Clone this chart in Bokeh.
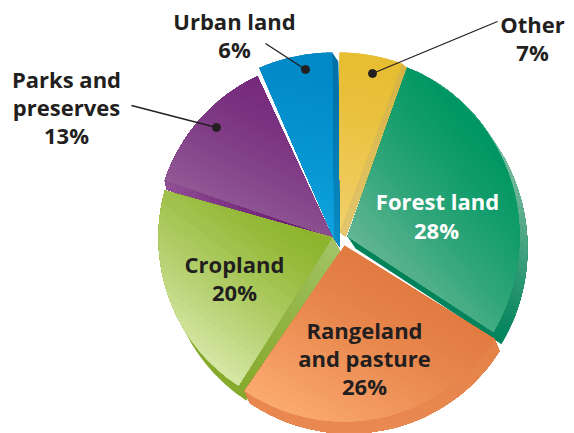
import numpy as np
from bokeh.plotting import figure
from bokeh.models import Range1d, ColumnDataSource
from bokeh.core.properties import value
from bokeh.embed import file_html
from bokeh.resources import INLINE

# ---- data
names = ["Forest land", "Rangeland and pasture", "Cropland", "Parks and preserves", "Urban land", "Other"]
shares = [28, 26, 20, 13, 6, 7]

# ---- artwork layout (reference pixel space; the illustration is hand drawn, so slices are nudged)
START = 20.3
start_nudge = [0.0, 1.0, -2.0, 2.0, 2.9, 4.9]
end_nudge = [0.9, -0.4, -1.2, 1.4, 4.5, 0.2]
apex = [(347, 236), (344, 245), (332, 237), (332, 237), (333, 237), (339, 231)]
radius_x = [172, 177, 174, 177, 185, 179]
radius_y = [180, 176, 176, 178, 185, 179]
extrude = [(8, 12), (5, 12), (8, 15), (2, 9), (6, 9), (6, 5)]
top_col = [("#009763", "#62b592", (-0.75, 0.66)), ("#e27b41", "#faa96f", (-0.5, 0.87)),
           ("#8db32b", "#d3e6a2", (-0.6, 0.8)), ("#762a7d", "#905894", (-0.45, 0.89)),
           ("#0088c7", "#0ea3de", (-0.2, 0.98)), ("#e7bd31", "#f2d06c", (-0.2, 0.98))]
side_col = [("#00825a", "#8fc6ab", (0.6, -0.8)), ("#e07a40", "#e98a52", (0, 1)),
            ("#86aa2c", "#a3c266", (0.75, -0.65)), ("#66146f", "#8f4f95", (-0.8, -0.2)),
            ("#0070a8", "#0a8cc4", (0, 1)), ("#d6b443", "#e2c770", (0, 1))]
order = [5, 4, 3, 0, 2, 1]

lines = [("Urban land", 234, 20, "#231f20"), ("6%", 234, 48, "#231f20"),
         ("Other", 532, 23, "#231f20"), ("7%", 532, 51, "#231f20"),
         ("Parks and", 66, 78, "#231f20"), ("preserves", 66, 106, "#231f20"), ("13%", 66, 134, "#231f20"),
         ("Forest land", 437, 200, "white"), ("28%", 436, 229, "white"),
         ("Cropland", 234, 263, "#231f20"), ("20%", 234, 291, "#231f20"),
         ("Rangeland", 364, 329, "#231f20"), ("and pasture", 364, 357, "#231f20"), ("26%", 364, 385, "#231f20")]
leaders = [((265, 43), (305, 69)), ((497, 21), (372, 73)), ((131, 105), (216, 127))]


def sector(c, rx, ry, a0, a1):
    a = np.radians(np.linspace(a0, a1, 60))
    pts = [(c[0] + rx * np.sin(t), c[1] - ry * np.cos(t)) for t in a]
    return [tuple(c)] + pts


def hull(pts):
    pts = sorted(set(pts))
    def half(seq):
        out = []
        for p in seq:
            while len(out) > 1 and (out[-1][0]-out[-2][0])*(p[1]-out[-2][1]) - (out[-1][1]-out[-2][1])*(p[0]-out[-2][0]) <= 0:
                out.pop()
            out.append(p)
        return out[:-1]
    return half(pts) + half(pts[::-1])


def clip(poly, d, t0):
    out = []
    for i, p in enumerate(poly):
        q = poly[(i + 1) % len(poly)]
        tp, tq = p[0]*d[0] + p[1]*d[1], q[0]*d[0] + q[1]*d[1]
        if tp >= t0:
            out.append(p)
        if (tp >= t0) != (tq >= t0):
            f = (t0 - tp) / (tq - tp)
            out.append((p[0] + f*(q[0]-p[0]), p[1] + f*(q[1]-p[1])))
    return out


def rgb(h):
    return np.array([int(h[i:i+2], 16) for i in (1, 3, 5)], float)


def gradient(p, poly, c0, c1, d, n=26):
    ts = [a*d[0] + b*d[1] for a, b in poly]
    lo, hi = min(ts), max(ts)
    xs, ys, cs = [], [], []
    for k in range(n):
        part = clip(poly, d, lo + (hi - lo) * k / n) if k else poly
        if len(part) < 3:
            continue
        col = rgb(c0) + (rgb(c1) - rgb(c0)) * (k / (n - 1)) ** 1.3
        xs.append([a for a, _ in part])
        ys.append([b for _, b in part])
        cs.append("#%02x%02x%02x" % tuple(int(round(v)) for v in col))
    p.patches(xs="xs", ys="ys", fill_color="cs", line_color=None,
              source=ColumnDataSource(dict(xs=xs, ys=ys, cs=cs)))


p = figure(width=574, height=433, x_range=Range1d(0, 574), y_range=Range1d(433, 0),
           toolbar_location=None, output_backend="svg", min_border=0,
           outline_line_color=None, background_fill_color="white")
p.axis.visible = False
p.grid.visible = False

cum = np.concatenate([[0], np.cumsum(shares)]) * 3.6 + START
for i in order:
    a0, a1 = cum[i] + start_nudge[i], cum[i + 1] + end_nudge[i]
    top = sector(apex[i], radius_x[i], radius_y[i], a0, a1)
    ex = extrude[i]
    body = hull(top + [(x + ex[0], y + ex[1]) for x, y in top])
    gradient(p, body, *side_col[i])
    gradient(p, top, *top_col[i])

for a, b in leaders:
    p.line([a[0], b[0]], [a[1], b[1]], line_color="#231f20", line_width=1.3)
    p.scatter([b[0]], [b[1]], size=8, color="#231f20")

p.text([l[1] for l in lines], [l[2] for l in lines], text=[l[0] for l in lines],
       text_color=[l[3] for l in lines], text_font=value("Open Sans"), text_font_style="bold",
       text_font_size="22px", text_align="center", text_baseline="middle")

open("out.html", "w").write(file_html(p, INLINE))
